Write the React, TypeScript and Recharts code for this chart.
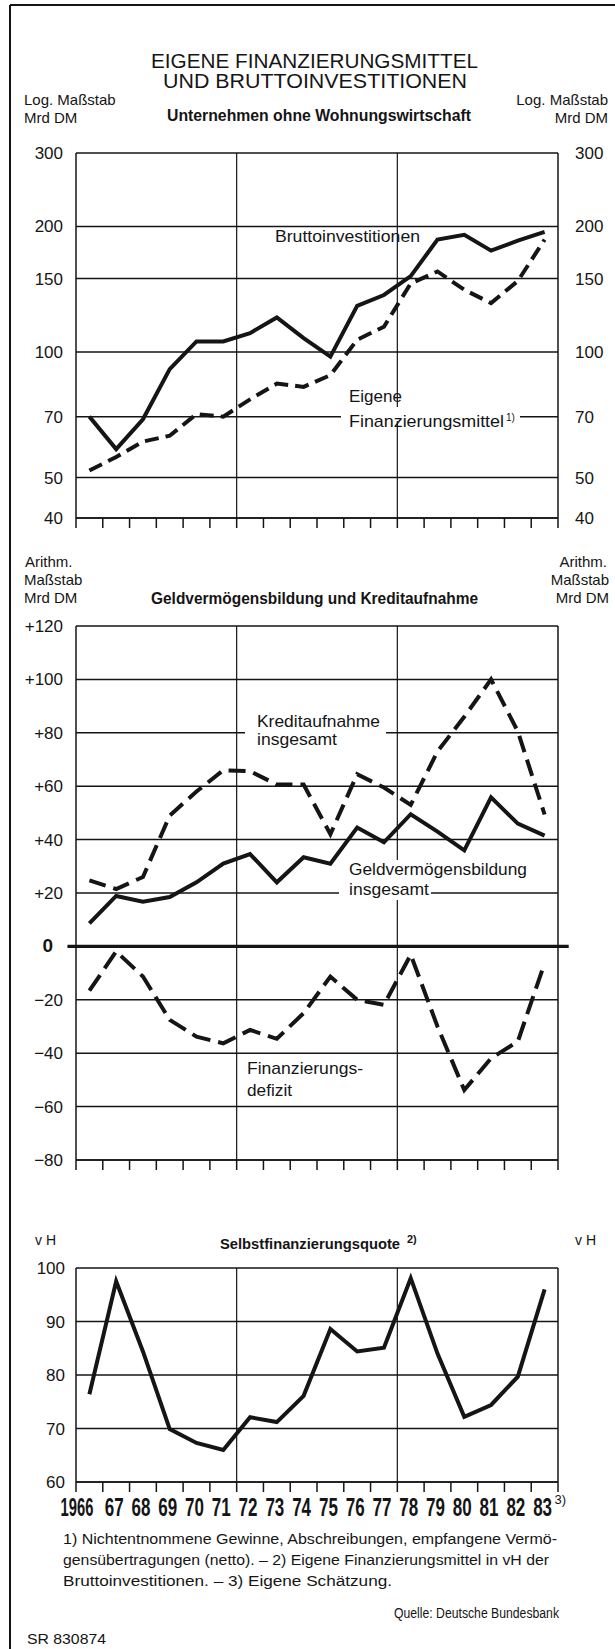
import React from "react";
import { LineChart, Line, XAxis, YAxis, CartesianGrid, ReferenceLine } from "recharts";

// Jahre 1966–1983 (1983 geschätzt)
const years = [1966, 1967, 1968, 1969, 1970, 1971, 1972, 1973, 1974, 1975, 1976, 1977, 1978, 1979, 1980, 1981, 1982, 1983];
const yearLabels = ["1966", "67", "68", "69", "70", "71", "72", "73", "74", "75", "76", "77", "78", "79", "80", "81", "82", "83"];
const yearBounds = [1965.5, 1966.5, 1967.5, 1968.5, 1969.5, 1970.5, 1971.5, 1972.5, 1973.5, 1974.5, 1975.5, 1976.5, 1977.5, 1978.5, 1979.5, 1980.5, 1981.5, 1982.5, 1983.5];

// Mrd DM, log. Maßstab
const brutto = [70, 58.5, 69, 91, 106, 106, 111, 121, 108, 97.5, 129, 137, 152, 186, 191, 175, 185, 194];
const eigene = [52, 56, 61, 63, 71, 70, 77, 84, 82.5, 88, 107, 115, 146, 156, 141, 131, 148, 186];

// Mrd DM, arithm. Maßstab
const geldverm = [8.6, 18.9, 16.7, 18.5, 24, 31, 34.6, 24, 33.4, 31, 44.5, 39, 49.5, 43, 36, 55.8, 46, 41.5];
const kredit = [24.7, 21.5, 26, 49, 58, 66, 65.6, 60.6, 60.6, 42, 64.5, 59.5, 53, 73, 86, 100, 80.5, 49.4];
const defizit = [-16.6, -1.9, -11.3, -27.5, -33.8, -36.3, -31.3, -34.6, -25, -11.3, -20, -21.9, -3.1, -30, -53.8, -41.9, -35.6, -6.3];

// vH
const quote = [76.4, 97.5, 84.4, 69.9, 67.3, 66, 72.1, 71.2, 76.1, 88.6, 84.4, 85.1, 98.1, 84, 72.2, 74.4, 79.7, 96];

const logTicks = [40, 50, 70, 100, 150, 200, 300];
const arithTicks = [-80, -60, -40, -20, 0, 20, 40, 60, 80, 100, 120];
const quoteTicks = [60, 70, 80, 90, 100];

const topData = years.map((year, i) => ({ year, brutto: brutto[i], eigene: eigene[i] }));
const midData = years.map((year, i) => ({ year, geldverm: geldverm[i], kredit: kredit[i], defizit: defizit[i] }));
const lowData = years.map((year, i) => ({ year, quote: quote[i] }));

const INK = "#151515";
const FONT = "'Liberation Sans', Arial, Helvetica, sans-serif";
const X_DOMAIN: [number, number] = [1965.5, 1983.5];

const fmtPlain = (v: number) => String(v);
const fmtSigned = (v: number) => (v > 0 ? "+" + v : v < 0 ? "\u2212" + Math.abs(v) : "0");

function yTick(side: "left" | "right", fmt: (v: number) => string, boldZero = false) {
  return (props: any) => {
    const { x, y, payload } = props;
    const v = payload.value as number;
    const zero = boldZero && v === 0;
    const dx = zero ? (side === "left" ? -10 : 9) : 0;
    return (
      <text
        x={x + dx}
        y={y}
        dy={6}
        textAnchor={side === "left" ? "end" : "start"}
        fontFamily={FONT}
        fontSize={zero ? 19 : 17}
        fontWeight={zero ? 700 : 400}
        fill={INK}
      >
        {fmt(v)}
      </text>
    );
  };
}

// kurze Striche an den Jahresgrenzen
const BoundTick = (p: any) => (
  <line x1={p.x} x2={p.x} y1={p.y} y2={p.y + 10} stroke={INK} strokeWidth={1.5} />
);

// schmale fette Jahreszahlen
function YearTick(props: any) {
  const { x, y, payload } = props;
  const i = years.indexOf(payload.value);
  const label = yearLabels[i];
  if (!label) return null;
  const wide = label.length > 2;
  const sx = wide ? 0.59 : 0.68;
  const ax = wide ? x + 4 : x - 2;
  return (
    <g>
      <text
        transform={`translate(${ax},${y + 22}) scale(${sx},1)`}
        textAnchor={wide ? "end" : "middle"}
        fontFamily={FONT}
        fontSize={25}
        fontWeight={700}
        fill={INK}
      >
        {label}
      </text>
      {i === years.length - 1 && (
        <text x={x + 10} y={y + 10} fontFamily={FONT} fontSize={13} fill={INK}>
          3)
        </text>
      )}
    </g>
  );
}

const axisLine = { stroke: INK, strokeWidth: 1.5 };
const gridProps = { stroke: INK, strokeWidth: 1.5, vertical: false, strokeOpacity: 1 };

function BoundsAxis() {
  return (
    <XAxis
      type="number"
      dataKey="year"
      domain={X_DOMAIN}
      ticks={yearBounds}
      interval={0}
      tick={BoundTick}
      tickSize={0}
      tickMargin={0}
      tickLine={false}
      axisLine={axisLine}
      height={12}
    />
  );
}

function Annotations() {
  const T = ({ x, y, children, size = 17, weight = 400, anchor = "start", len }: any) => (
    <text
      x={x}
      y={y}
      fontSize={size}
      fontWeight={weight}
      textAnchor={anchor}
      fontFamily={FONT}
      fill={INK}
      textLength={len}
      lengthAdjust={len ? "spacingAndGlyphs" : undefined}
    >
      {children}
    </text>
  );
  return (
    <svg width={615} height={1649} style={{ position: "absolute", left: 0, top: 0, pointerEvents: "none" }}>
      {/* Rahmen */}
      <line x1={10} y1={5} x2={615} y2={5} stroke={INK} strokeWidth={2} />
      <line x1={10} y1={5} x2={10} y2={1649} stroke={INK} strokeWidth={2} />

      <T x={151} y={68} size={20} len={327}>EIGENE FINANZIERUNGSMITTEL</T>
      <T x={163} y={88} size={20} len={304}>UND BRUTTOINVESTITIONEN</T>

      <T x={24} y={105} size={15}>Log. Maßstab</T>
      <T x={24} y={123} size={15}>Mrd  DM</T>
      <T x={608} y={105} size={15} anchor="end">Log. Maßstab</T>
      <T x={608} y={123} size={15} anchor="end">Mrd  DM</T>
      <T x={167} y={121} size={16} weight={700} len={304}>Unternehmen ohne Wohnungswirtschaft</T>

      <T x={275} y={242} len={145}>Bruttoinvestitionen</T>
      <rect x={341} y={407} width={179} height={14} fill="#fff" />
      <T x={349} y={402}>Eigene</T>
      <T x={349} y={427} len={155}>Finanzierungsmittel</T>
      <T x={506} y={421} size={10}>1)</T>

      <T x={25} y={567} size={15}>Arithm.</T>
      <T x={24} y={585} size={15}>Maßstab</T>
      <T x={24} y={603} size={15}>Mrd  DM</T>
      <T x={607} y={567} size={15} anchor="end">Arithm.</T>
      <T x={609} y={585} size={15} anchor="end">Maßstab</T>
      <T x={609} y={603} size={15} anchor="end">Mrd  DM</T>
      <T x={151} y={604} size={16} weight={700} len={327}>Geldvermögensbildung und Kreditaufnahme</T>

      <rect x={245} y={712} width={141} height={38} fill="#fff" />
      <T x={257} y={727} len={123}>Kreditaufnahme</T>
      <T x={257} y={745} len={80}>insgesamt</T>
      <rect x={347} y={860} width={182} height={20} fill="#fff" />
      <rect x={339} y={880} width={92} height={20} fill="#fff" />
      <T x={349} y={875} len={178}>Geldvermögensbildung</T>
      <T x={349} y={895} len={80}>insgesamt</T>
      <T x={247} y={1074} len={116}>Finanzierungs-</T>
      <T x={247} y={1096} len={45}>defizit</T>

      <T x={35} y={1245} size={14}>v H</T>
      <T x={575} y={1245} size={14}>v H</T>
      <T x={220} y={1249} size={15} weight={700} len={180}>Selbstfinanzierungsquote</T>
      <T x={407} y={1243} size={11} weight={700}>2)</T>

      <T x={63} y={1544} size={14} len={494}>1) Nichtentnommene Gewinne, Abschreibungen, empfangene Vermö-</T>
      <T x={63} y={1565} size={14} len={486}>gensübertragungen (netto). – 2) Eigene Finanzierungsmittel in vH der</T>
      <T x={63} y={1586} size={14} len={329}>Bruttoinvestitionen. – 3) Eigene Schätzung.</T>
      <T x={559} y={1618} size={14} anchor="end" len={165}>Quelle: Deutsche Bundesbank</T>
      <T x={27} y={1644} size={14} len={79}>SR 830874</T>
    </svg>
  );
}

export default function App() {
  return (
    <div style={{ position: "absolute", left: 0, top: 0, width: 615, height: 1649, background: "#fff", overflow: "hidden" }}>
      {/* Unternehmen ohne Wohnungswirtschaft */}
      <div style={{ position: "absolute", left: 0, top: 143.3 }}>
        <LineChart width={615} height={397} data={topData} margin={{ top: 10, right: 0, bottom: 10, left: 0 }}>
          <CartesianGrid {...gridProps} />
          <BoundsAxis />
          <YAxis
            scale="log"
            domain={[40, 300]}
            ticks={logTicks}
            interval={0}
            allowDataOverflow
            width={76}
            tickSize={0}
            tickMargin={13}
            axisLine={axisLine}
            tickLine={false}
            tick={yTick("left", fmtPlain)}
          />
          <YAxis
            yAxisId="r"
            orientation="right"
            scale="log"
            domain={[40, 300]}
            ticks={logTicks}
            interval={0}
            allowDataOverflow
            width={57}
            tickSize={0}
            tickMargin={17}
            axisLine={axisLine}
            tickLine={false}
            tick={yTick("right", fmtPlain)}
          />
          <ReferenceLine x={1971.5} stroke={INK} strokeWidth={1.2} />
          <ReferenceLine x={1977.5} stroke={INK} strokeWidth={1.2} />
          <Line dataKey="brutto" stroke={INK} strokeWidth={4} dot={false} isAnimationActive={false} />
          <Line dataKey="eigene" stroke={INK} strokeWidth={4} strokeDasharray="14 7" dot={false} isAnimationActive={false} />
        </LineChart>
      </div>

      {/* Geldvermögensbildung und Kreditaufnahme */}
      <div style={{ position: "absolute", left: 0, top: 616 }}>
        <LineChart width={615} height={566} data={midData} margin={{ top: 10, right: 0, bottom: 10, left: 0 }}>
          <CartesianGrid {...gridProps} />
          <BoundsAxis />
          <YAxis
            domain={[-80, 120]}
            ticks={arithTicks}
            interval={0}
            width={76}
            tickSize={0}
            tickMargin={13}
            axisLine={axisLine}
            tickLine={false}
            tick={yTick("left", fmtSigned, true)}
          />
          <YAxis
            yAxisId="r"
            orientation="right"
            domain={[-80, 120]}
            ticks={arithTicks}
            interval={0}
            width={57}
            tickSize={0}
            tickMargin={13}
            axisLine={axisLine}
            tickLine={false}
            tick={yTick("right", fmtSigned, true)}
          />
          <ReferenceLine x={1971.5} stroke={INK} strokeWidth={1.2} />
          <ReferenceLine x={1977.5} stroke={INK} strokeWidth={1.2} />
          <ReferenceLine
            segment={[{ x: 1965.18, y: 0 }, { x: 1983.9, y: 0 }]}
            ifOverflow="visible"
            stroke={INK}
            strokeWidth={3.2}
          />
          <Line dataKey="geldverm" stroke={INK} strokeWidth={4} dot={false} isAnimationActive={false} />
          <Line dataKey="kredit" stroke={INK} strokeWidth={4} strokeDasharray="17 8" dot={false} isAnimationActive={false} />
          <Line dataKey="defizit" stroke={INK} strokeWidth={4} strokeDasharray="19 8" dot={false} isAnimationActive={false} />
        </LineChart>
      </div>

      {/* Selbstfinanzierungsquote */}
      <div style={{ position: "absolute", left: 0, top: 1258 }}>
        <LineChart width={615} height={277} data={lowData} margin={{ top: 10, right: 0, bottom: 5, left: 0 }}>
          <CartesianGrid {...gridProps} />
          <BoundsAxis />
          <XAxis
            xAxisId="lbl"
            type="number"
            dataKey="year"
            domain={X_DOMAIN}
            ticks={years}
            interval={0}
            tickLine={false}
            axisLine={false}
            tickSize={0}
            tickMargin={0}
            height={36}
            tick={YearTick}
          />
          <YAxis
            domain={[60, 100]}
            ticks={quoteTicks}
            interval={0}
            width={76}
            tickSize={0}
            tickMargin={11}
            axisLine={axisLine}
            tickLine={false}
            tick={yTick("left", fmtPlain)}
          />
          <YAxis
            yAxisId="r"
            orientation="right"
            domain={[60, 100]}
            ticks={quoteTicks}
            interval={0}
            width={57}
            tickSize={0}
            tickMargin={15}
            axisLine={axisLine}
            tickLine={false}
            tick={yTick("right", fmtPlain)}
          />
          <ReferenceLine x={1971.5} stroke={INK} strokeWidth={1.2} />
          <ReferenceLine x={1977.5} stroke={INK} strokeWidth={1.2} />
          <Line dataKey="quote" stroke={INK} strokeWidth={4} dot={false} isAnimationActive={false} />
        </LineChart>
      </div>

      <Annotations />
    </div>
  );
}
